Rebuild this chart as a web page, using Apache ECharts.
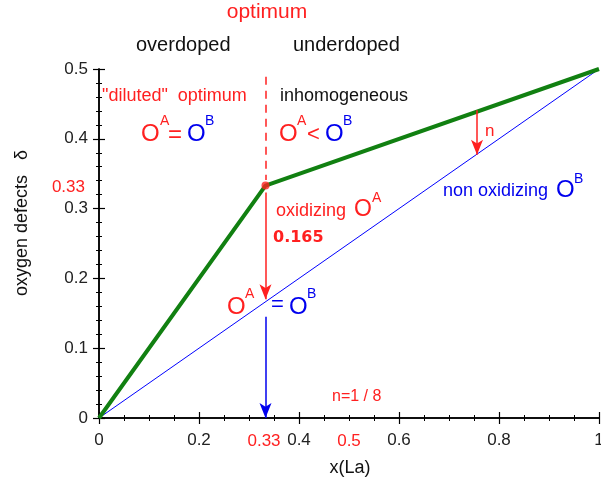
<!DOCTYPE html>
<html>
<head>
<meta charset="utf-8">
<script src="https://cdn.jsdelivr.net/npm/echarts@6/dist/echarts.min.js"></script>
<style>
html,body{margin:0;padding:0;background:#fff;overflow:hidden;width:601px;height:483px;}
#c{width:601px;height:483px;position:absolute;left:0;top:0;}
</style>
</head>
<body>
<div id="c"></div>
<script>
// ---- data ----
const greenX = [0, 0.333, 1];
const greenY = [0, 0.333, 0.5];
const blueX = [0, 1];
const blueY = [0, 0.5];
const optimumPoint = [0.333, 0.333];
const xTicks = [0, 0.2, 0.4, 0.6, 0.8, 1];
const yTicks = [0, 0.1, 0.2, 0.3, 0.4, 0.5];
const extraXLabels = [0.33, 0.5];
const extraYLabel = 0.33;
// arrows: [x, yStart, yEnd]
const redArrow = [0.333, 0.323, 0.170];
const blueArrow = [0.333, 0.145, 0.0];
const nArrow = [0.756, 0.441, 0.377];
const dashedLine = [0.333, 0.489, 0.341];

const FONT = '"Liberation Sans", Arial, sans-serif';
const chart = echarts.init(document.getElementById('c'), null, {width: 601, height: 483});

function fmt(v){ return (v === 0 || v === 1) ? String(v) : v.toFixed(1); }

const axisCommon = {
  type: 'value',
  axisLine: {show: true, lineStyle: {color: '#000', width: 1.5}},
  axisTick: {show: true, inside: true, length: 6, lineStyle: {color: '#000', width: 1.2}},
  minorTick: {show: true, length: 3, lineStyle: {color: '#000', width: 1}},
  splitLine: {show: false}
};

function arrowItem(a, color){
  return [{coord: [a[0], a[1]], symbol: 'none', lineStyle: {color: color, width: 1.5, type: 'solid'}},
          {coord: [a[0], a[2]], symbol: 'arrow', symbolSize: [9, 15], itemStyle: {color: color}}];
}

const option = {
  animation: false,
  backgroundColor: '#fff',
  grid: {left: 99, right: 2, top: 69, bottom: 65, containLabel: false, outerBoundsMode: 'none'},
  xAxis: [
    Object.assign({}, axisCommon, {
      min: 0, max: 1, interval: 0.2, position: 'bottom',
      minorTick: Object.assign({}, axisCommon.minorTick, {splitNumber: 4}),
      axisLabel: {margin: 14, fontSize: 17, color: '#222', fontFamily: FONT, formatter: fmt}
    }),
    Object.assign({}, axisCommon, {
      min: 0, max: 1, interval: 0.2, position: 'top',
      minorTick: Object.assign({}, axisCommon.minorTick, {splitNumber: 4}),
      axisLabel: {show: false}
    })
  ],
  yAxis: [
    Object.assign({}, axisCommon, {
      min: 0, max: 0.5, interval: 0.1, position: 'left',
      minorTick: Object.assign({}, axisCommon.minorTick, {splitNumber: 5}),
      axisLabel: {margin: 11, fontSize: 17, color: '#222', fontFamily: FONT, formatter: fmt}
    }),
    Object.assign({}, axisCommon, {
      min: 0, max: 0.5, interval: 0.1, position: 'right',
      minorTick: Object.assign({}, axisCommon.minorTick, {splitNumber: 5}),
      axisLabel: {show: false}
    })
  ],
  series: [
    {
      type: 'line', name: 'blue', xAxisIndex: 0, yAxisIndex: 0,
      data: blueX.map((x, i) => [x, blueY[i]]),
      showSymbol: false, lineStyle: {color: '#0000ff', width: 1}, z: 2
    },
    {
      type: 'line', name: 'green', xAxisIndex: 0, yAxisIndex: 0,
      data: greenX.map((x, i) => [x, greenY[i]]),
      showSymbol: false, lineStyle: {color: '#118011', width: 4}, z: 3,
      markLine: {
        silent: true, animation: false,
        label: {show: false},
        data: [
          [{coord: [dashedLine[0], dashedLine[1]], symbol: 'none', lineStyle: {color: '#ff2020', width: 1.5, type: [8, 6]}},
           {coord: [dashedLine[0], dashedLine[2]], symbol: 'none'}],
          arrowItem(redArrow, '#ff2020'),
          arrowItem(blueArrow, '#0000ee'),
          arrowItem(nArrow, '#ff2020')
        ]
      }
    },
    {
      type: 'scatter', name: 'optimum', data: [optimumPoint],
      symbolSize: 8, itemStyle: {color: '#ff2020'}, z: 5
    }
  ]
};
chart.setOption(option);

function txt(x, y, text, color, size, extra){
  return Object.assign({
    type: 'text', x: x, y: y, z: 100,
    style: Object.assign({text: text, fill: color, fontSize: size, fontFamily: FONT,
      textAlign: 'left', textVerticalAlign: 'middle'}, extra || {})
  });
}
const RED = '#ff2020', BLUE = '#0000ee', BLACK = '#111';

const elems = [
  txt(267, 12, 'optimum', RED, 21, {textAlign: 'center'}),
  txt(136, 45, 'overdoped', BLACK, 20),
  txt(293, 45, 'underdoped', BLACK, 20),
  txt(102, 96, '"diluted"  optimum', RED, 18),
  txt(280, 96, 'inhomogeneous', BLACK, 18),
  // O^A = O^B (left)
  txt(141, 134, 'O', RED, 24), txt(160, 121, 'A', RED, 14),
  txt(168, 135, '=', RED, 24),
  txt(187, 134, 'O', BLUE, 24), txt(205, 121, 'B', BLUE, 14),
  // O^A < O^B
  txt(279, 134, 'O', RED, 24), txt(297, 121, 'A', RED, 14),
  txt(307, 135, '<', RED, 22),
  txt(325, 134, 'O', BLUE, 24), txt(343, 121, 'B', BLUE, 14),
  // oxidizing O^A
  txt(276, 211, 'oxidizing', RED, 18),
  txt(354, 210, 'O', RED, 23), txt(372, 198, 'A', RED, 14),
  txt(273, 238, '0.165', RED, 16, {fontWeight: 'bold', fontFamily: '"DejaVu Sans", sans-serif'}),
  // O^A = O^B (bottom)
  txt(227, 307, 'O', RED, 24), txt(245, 294, 'A', RED, 14),
  txt(271, 305, '=', BLUE, 22),
  txt(289, 307, 'O', BLUE, 24), txt(307, 294, 'B', BLUE, 14),
  // n
  txt(485, 131, 'n', RED, 17),
  // non oxidizing O^B
  txt(443, 191, 'non oxidizing', BLUE, 18),
  txt(556, 190, 'O', BLUE, 24), txt(574, 179, 'B', BLUE, 14),
  txt(332, 397, 'n=1 / 8', RED, 16),
  // axis titles
  txt(350, 468, 'x(La)', BLACK, 18, {textAlign: 'center'}),
  {type: 'text', x: 22, y: 223, rotation: Math.PI / 2, z: 100,
   style: {text: 'oxygen defects   δ', fill: BLACK, fontSize: 18, fontFamily: FONT,
           textAlign: 'center', textVerticalAlign: 'middle'}}
];

// extra red tick labels placed through the axis scales
extraXLabels.forEach(v => {
  const p = chart.convertToPixel({xAxisIndex: 0, yAxisIndex: 0}, [v, 0]);
  elems.push(txt(p[0], p[1] + 23, String(v), RED, 17, {textAlign: 'center'}));
});
{
  const p = chart.convertToPixel({xAxisIndex: 0, yAxisIndex: 0}, [0, extraYLabel]);
  elems.push(txt(p[0] - 14, p[1], String(extraYLabel), RED, 17, {textAlign: 'right'}));
}
chart.setOption({graphic: {elements: elems}});
</script>
</body>
</html>
